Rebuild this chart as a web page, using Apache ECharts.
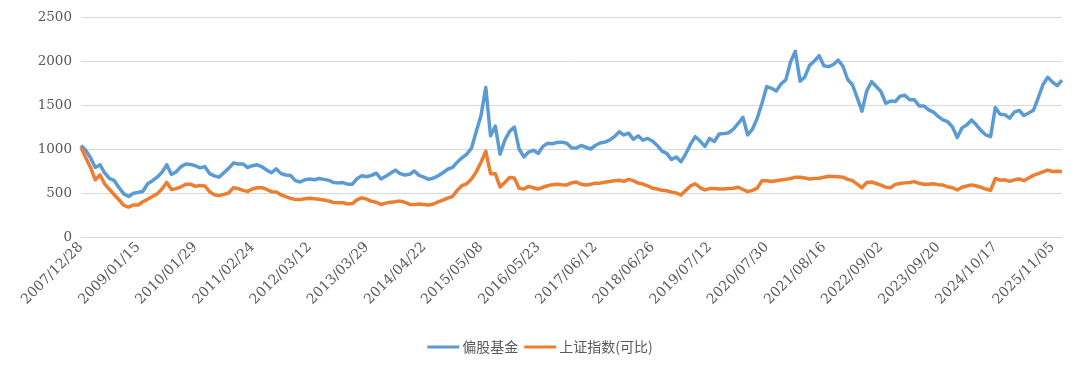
<!DOCTYPE html>
<html>
<head>
<meta charset="utf-8">
<script src="https://cdn.jsdelivr.net/npm/echarts@6/dist/echarts.min.js"></script>
<style>
html,body{margin:0;padding:0;background:#fff;}
#chart{width:1080px;height:373px;}
</style>
</head>
<body>
<div id="chart"></div>
<script>
// Tick labels on the date axis (one every 12 sample steps)
var tickLabels = ['2007/12/28','2009/01/15','2010/01/29','2011/02/24','2012/03/12','2013/03/29','2014/04/22','2015/05/08','2016/05/23','2017/06/12','2018/06/26','2019/07/12','2020/07/30','2021/08/16','2022/09/02','2023/09/20','2024/10/17','2025/11/05'];
var seriesNames = ['偏股基金','上证指数(可比)'];
var fundValues = [1040,985,900,790,820,727,665,640,560,490,460,497,505,520,605,640,680,735,820,710,742,800,830,825,810,785,800,720,695,680,730,780,840,830,830,790,810,820,798,760,730,775,720,705,700,640,625,650,660,650,665,655,645,620,615,618,600,600,665,695,685,700,725,660,690,725,760,720,705,712,750,700,680,655,670,695,730,770,790,850,900,940,1010,1200,1380,1700,1150,1260,940,1100,1200,1250,1000,910,965,985,950,1030,1065,1060,1075,1078,1065,1015,1010,1040,1020,1000,1040,1068,1078,1100,1140,1195,1160,1180,1110,1150,1100,1120,1090,1040,975,950,880,910,856,945,1055,1140,1090,1030,1120,1085,1170,1175,1185,1225,1290,1360,1160,1225,1350,1520,1710,1690,1660,1740,1785,1990,2110,1770,1820,1950,2000,2060,1945,1936,1960,2010,1940,1790,1730,1580,1430,1660,1765,1710,1651,1520,1545,1540,1600,1610,1560,1560,1490,1490,1445,1420,1370,1330,1310,1250,1130,1240,1273,1330,1275,1210,1160,1140,1470,1395,1390,1350,1420,1440,1380,1410,1440,1580,1730,1815,1760,1720,1784];
// 上证指数(可比)
var indexValues = [1020,900,790,650,705,600,540,480,420,360,340,364,364,400,430,460,490,545,620,540,550,570,600,600,575,585,580,515,480,470,485,500,560,550,530,518,545,560,562,540,515,512,480,460,440,425,425,435,440,435,428,420,410,392,390,390,375,380,425,445,430,405,395,370,385,395,400,408,395,370,368,375,370,364,375,400,420,442,460,530,585,605,660,740,850,975,720,720,570,620,675,670,555,545,575,560,545,565,582,595,600,595,592,615,625,600,592,600,610,612,622,630,640,645,632,655,640,612,602,582,555,545,530,525,510,500,477,530,580,605,560,535,550,552,545,545,550,555,565,540,515,530,555,640,640,630,640,648,655,665,680,680,670,660,665,667,680,690,688,685,680,655,640,600,560,620,625,608,590,565,560,598,608,615,620,629,610,600,600,605,595,590,570,560,535,565,580,592,580,565,545,530,665,645,650,632,650,660,640,670,700,720,740,760,745,748,742];
var yTicks = [0,500,1000,1500,2000,2500];

var STEP = 12;
var serif = "'DejaVu Serif','Liberation Serif',serif";
var chart = echarts.init(document.getElementById('chart'), null, {renderer:'canvas'});
function pairs(arr){ return arr.map(function(v,i){ return [i,v]; }); }
chart.setOption({
  animation:false,
  backgroundColor:'#ffffff',
  grid:{left:81,right:18,top:17,bottom:136,containLabel:false},
  legend:{
    bottom:14,left:'center',
    itemWidth:32,itemHeight:3,itemGap:6,icon:'rect',
    textStyle:{color:'#595959',fontSize:14,fontFamily:"'Noto Sans CJK SC',serif",padding:[0,0,0,-2]},
    data:seriesNames
  },
  xAxis:{
    type:'value',min:0,max:fundValues.length-1,interval:STEP,
    axisLine:{show:true,lineStyle:{color:'#d9d9d9',width:1}},
    axisTick:{show:false},
    splitLine:{show:false},
    axisLabel:{
      rotate:45,margin:8,color:'#595959',fontSize:14,fontFamily:serif,
      showMaxLabel:false,
      formatter:function(v){ return (v % STEP === 0) ? (tickLabels[v/STEP]||'') : ''; }
    }
  },
  yAxis:{
    type:'value',min:yTicks[0],max:yTicks[yTicks.length-1],interval:yTicks[1]-yTicks[0],
    axisLine:{show:false},axisTick:{show:false},
    splitLine:{lineStyle:{color:'#d9d9d9',width:1}},
    axisLabel:{margin:9,color:'#595959',fontSize:13.5,fontFamily:serif,
      formatter:function(v){ return String(v); }}
  },
  series:[
    {name:seriesNames[0],type:'line',data:pairs(fundValues),showSymbol:false,symbol:'none',
     lineStyle:{color:'#5b9bd5',width:3.5,join:'round'},itemStyle:{color:'#5b9bd5'}},
    {name:seriesNames[1],type:'line',data:pairs(indexValues),showSymbol:false,symbol:'none',
     lineStyle:{color:'#ed7d31',width:3.5,join:'round'},itemStyle:{color:'#ed7d31'}}
  ]
});
</script>
</body>
</html>
